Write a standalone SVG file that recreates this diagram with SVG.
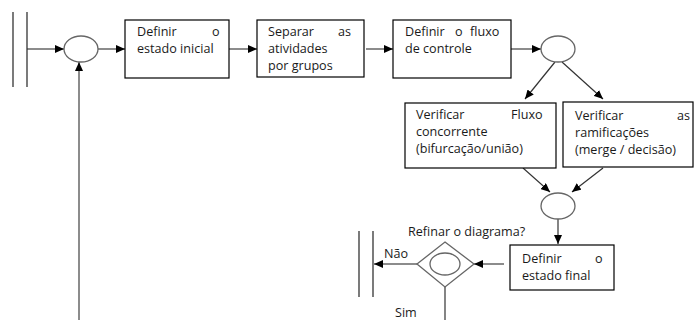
<svg xmlns="http://www.w3.org/2000/svg" width="694" height="320" viewBox="0 0 694 320">
<defs>
<marker id="ah" markerWidth="9" markerHeight="8" refX="9" refY="4" orient="auto" markerUnits="userSpaceOnUse">
<path d="M0,0 L9,4 L0,8 Z" fill="#000"/>
</marker>
<style>
.box{fill:#fff;stroke:#000;stroke-width:1.2}
.circ{fill:#fff;stroke:#666;stroke-width:1.3}
.bar{stroke:#333;stroke-width:1.3}
.ln{fill:none;stroke:#666;stroke-width:1.5}
.la{fill:none;stroke:#333;stroke-width:1.2}
text{font-family:"Open Sans","Liberation Sans",sans-serif;font-size:12.6px;fill:#1a1a1a}
</style>
</defs>
<rect width="694" height="320" fill="#fff"/>
<g id="connectors">
<line class="ln" x1="27" y1="49" x2="64" y2="49" marker-end="url(#ah)"/>
<line class="ln" x1="98" y1="49" x2="125" y2="49" marker-end="url(#ah)"/>
<line class="ln" x1="229" y1="49" x2="257" y2="49" marker-end="url(#ah)"/>
<line class="ln" x1="366" y1="49" x2="393" y2="49" marker-end="url(#ah)"/>
<line class="ln" x1="511" y1="49" x2="541" y2="49" marker-end="url(#ah)"/>
<line class="la" x1="555" y1="62" x2="525" y2="99" marker-end="url(#ah)"/>
<line class="la" x1="562" y1="62" x2="603" y2="99" marker-end="url(#ah)"/>
<line class="la" x1="523" y1="168" x2="550" y2="192" marker-end="url(#ah)"/>
<line class="la" x1="603" y1="168" x2="572" y2="192" marker-end="url(#ah)"/>
<line class="la" x1="558" y1="219" x2="558" y2="244" marker-end="url(#ah)"/>
<line class="ln" x1="504" y1="264" x2="474" y2="264" marker-end="url(#ah)"/>
<line class="ln" x1="417" y1="264" x2="374" y2="264" marker-end="url(#ah)"/>
<line class="la" x1="445" y1="287" x2="445" y2="320"/>
<line class="ln" x1="79" y1="320" x2="79" y2="62" marker-end="url(#ah)"/>
</g>
<g id="start-bar">
<line class="bar" x1="13" y1="12" x2="13" y2="87"/>
<line class="bar" x1="27" y1="12" x2="27" y2="87"/>
</g>
<g id="merge1"><ellipse class="circ" cx="81" cy="49" rx="17" ry="13"/></g>
<g id="box1">
<rect class="box" x="125" y="20" width="104" height="58"/>
<text x="137" y="36">Definir</text>
<text x="212" y="36">o</text>
<text x="137" y="53">estado inicial</text>
</g>
<g id="box2">
<rect class="box" x="257" y="20" width="107" height="57"/>
<text x="268" y="36">Separar</text>
<text x="338" y="36">as</text>
<text x="268" y="53">atividades</text>
<text x="268" y="70">por grupos</text>
</g>
<g id="box3">
<rect class="box" x="393" y="20" width="118" height="58"/>
<text x="405" y="36">Definir</text>
<text x="455" y="36">o</text>
<text x="470" y="36">fluxo</text>
<text x="405" y="53">de controle</text>
</g>
<g id="fork"><ellipse class="circ" cx="558" cy="49" rx="17" ry="13"/></g>
<g id="box4">
<rect class="box" x="405" y="103" width="151" height="65"/>
<text x="416" y="119">Verificar</text>
<text x="511" y="119">Fluxo</text>
<text x="416" y="136">concorrente</text>
<text x="416" y="153">(bifurcação/união)</text>
</g>
<g id="box5">
<rect class="box" x="563" y="102" width="130" height="65"/>
<text x="575" y="120">Verificar</text>
<text x="677" y="120">as</text>
<text x="575" y="137">ramificações</text>
<text x="575" y="154">(merge / decisão)</text>
</g>
<g id="join"><ellipse class="circ" cx="558" cy="206" rx="17" ry="13"/></g>
<g id="box6">
<rect class="box" x="510" y="245" width="104" height="45"/>
<text x="522" y="263">Definir</text>
<text x="595" y="263">o</text>
<text x="522" y="280">estado final</text>
</g>
<g id="decision">
<polygon points="445,242 474,264 445,287 417,264" fill="#fff" stroke="#666" stroke-width="1.3"/>
<ellipse class="circ" cx="445" cy="264" rx="15" ry="11"/>
<text x="408" y="236">Refinar o diagrama?</text>
<text x="384" y="258">Não</text>
<text x="395" y="317">Sim</text>
</g>
<g id="end-bar">
<line class="bar" x1="359" y1="231" x2="359" y2="297"/>
<line class="bar" x1="373" y1="231" x2="373" y2="297"/>
</g>
</svg>
